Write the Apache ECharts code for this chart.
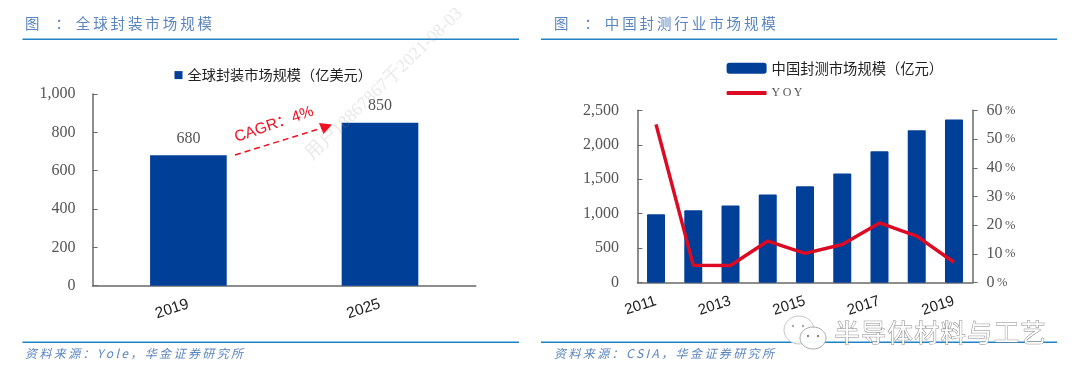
<!DOCTYPE html>
<html><head><meta charset="utf-8">
<style>html,body{margin:0;padding:0;background:#fff}#c{width:1080px;height:383px}</style>
<script src="https://cdn.jsdelivr.net/npm/echarts@6/dist/echarts.min.js"></script>
</head><body><div id="c"></div>
<script>
const globalYears = ['2019','2025'];
const globalSize = [680,850];
const globalTicks = [0,200,400,600,800,1000];
const chinaYears = ['2011','2012','2013','2014','2015','2016','2017','2018','2019'];
const chinaSize = [994,1052,1120,1280,1400,1583,1906,2211,2365];
const chinaYoy = [55.1,6.1,6.0,14.5,10.2,13.3,20.8,16.2,7.1];
const leftTitle='全球封装市场规模', rightTitle='中国封测行业市场规模';
const leftSource='资料来源：Yole，华金证券研究所', rightSource='资料来源：CSIA，华金证券研究所';
const leftName='全球封装市场规模（亿美元）', rightName='中国封测市场规模（亿元）', yoyName='YOY';

const BLUE='#003F98', RED='#DC0A22', HEAD='#5B85C0', RULE='#1E82C4', AXIS='#6a6a6a';
const CJK='"Noto Sans CJK SC","Noto Sans",sans-serif';
const SERIF='"Liberation Serif",serif';
const sp=(s,g)=>s.split('').join(g||'\u2009');
const valLabel={color:'#555',fontFamily:SERIF,fontSize:16,margin:17};
const catLabel={color:'#222',fontFamily:'"Liberation Sans",sans-serif',fontSize:15.5,rotate:18,margin:18};
const line={lineStyle:{color:AXIS,width:1.5}};
const ch=echarts.init(document.getElementById('c'));
const head=(x,x2,tx,t,s)=>[
 {type:'text',left:tx,top:16,style:{text:'图\u2002\u2009\u2009\u2009：\u2009\u2009'+sp(t),fill:HEAD,font:'14.5px '+CJK}},
 {type:'rect',shape:{x:x,y:38.5,width:x2-x,height:1.6},style:{fill:RULE}},
 {type:'rect',shape:{x:x,y:341.5,width:x2-x,height:1.6},style:{fill:RULE}},
 {type:'text',left:tx,top:347,style:{text:sp(s,'\u2009'),fill:HEAD,font:'italic 12px '+CJK}}
];
ch.setOption({
 animation:false,
 grid:[
  {left:92.6,top:94,width:383.2,height:191.7},
  {left:637.4,top:110.3,width:335.2,height:172.4}
 ],
 legend:[
  {data:[leftName],left:169.5,top:63,itemWidth:8,itemHeight:8,itemGap:2,icon:'rect',
   textStyle:{color:'#222',fontFamily:CJK,fontSize:14.2}},
  {data:[rightName],left:721.6,top:56,itemWidth:40,itemHeight:11,itemGap:2,icon:'roundRect',
   textStyle:{color:'#222',fontFamily:CJK,fontSize:14.3}},
  {data:[yoyName],left:721.6,top:82,itemWidth:40,itemHeight:4,itemGap:3,icon:'roundRect',
   formatter:()=>'Y\u2009O\u2009Y',
   textStyle:{color:'#555',fontFamily:SERIF,fontSize:12}}
 ],
 xAxis:[
  {gridIndex:0,type:'category',data:globalYears,axisLine:line,
   axisTick:{inside:true,length:5,lineStyle:{color:AXIS}},axisLabel:catLabel},
  {gridIndex:1,type:'category',data:chinaYears,axisLine:line,
   axisTick:{inside:true,length:5,interval:1,lineStyle:{color:AXIS}},axisLabel:{...catLabel,fontSize:15,interval:1}}
 ],
 yAxis:[
  {gridIndex:0,type:'value',min:globalTicks[0],max:globalTicks[5],interval:200,splitLine:{show:false},
   axisLine:{show:true,...line},axisTick:{show:true,inside:true,length:5,lineStyle:{color:AXIS}},
   axisLabel:{...valLabel,formatter:v=>v.toLocaleString('en-US')}},
  {gridIndex:1,type:'value',min:0,max:2500,interval:500,splitLine:{show:false},
   axisLine:{show:true,...line},axisTick:{show:true,inside:true,length:5,lineStyle:{color:AXIS}},
   axisLabel:{...valLabel,margin:18.5,formatter:v=>v.toLocaleString('en-US')}},
  {gridIndex:1,type:'value',position:'right',min:0,max:60,interval:10,splitLine:{show:false},
   axisLine:{show:true,...line},axisTick:{show:true,length:5,lineStyle:{color:AXIS}},
   axisLabel:{margin:14,formatter:v=>`{a|${v}}{b|\u2009%}`,
    rich:{a:{color:'#555',fontFamily:SERIF,fontSize:16},b:{color:'#555',fontFamily:SERIF,fontSize:12.5}}}}
 ],
 series:[
  {name:leftName,type:'bar',xAxisIndex:0,yAxisIndex:0,data:globalSize,barWidth:'40%',
   itemStyle:{color:BLUE},
   label:{show:true,position:'top',distance:8.5,color:'#555',fontFamily:SERIF,fontSize:16}},
  {name:rightName,type:'bar',xAxisIndex:1,yAxisIndex:1,data:chinaSize,barWidth:18,
   itemStyle:{color:BLUE,borderRadius:1}},
  {name:yoyName,type:'line',xAxisIndex:1,yAxisIndex:2,data:chinaYoy,symbol:'none',
   lineStyle:{color:RED,width:3.5},itemStyle:{color:RED}}
 ],
 graphic:[
  ...head(22.5,519,25,leftTitle,leftSource),
  ...head(541,1057,554,rightTitle,rightSource),
  {type:'line',shape:{x1:235,y1:155,x2:322,y2:128},style:{stroke:'#F01020',lineWidth:1.5,lineDash:[6,4]}},
  {type:'polygon',shape:{points:[[332,124.5],[319,123],[323.5,134]]},style:{fill:'#F01020'}},
  {type:'text',x:235,y:138,rotation:19*Math.PI/180,style:{text:'CAGR：4%',fill:'#F01020',font:'15.5px "Liberation Sans",'+CJK,textVerticalAlign:'middle'}},
  {type:'text',x:309,y:157,rotation:44*Math.PI/180,style:{text:'用户18867867于2021-08-03',fill:'rgba(150,150,150,0.22)',font:'18px '+SERIF,textVerticalAlign:'middle'},z:20},
  {type:'ellipse',shape:{cx:799,cy:330,rx:15,ry:14},style:{fill:'rgba(255,255,255,0.9)',stroke:'#c4c4c4',lineWidth:1},z:20},
  {type:'ellipse',shape:{cx:813,cy:338,rx:13,ry:11},style:{fill:'rgba(255,255,255,0.95)',stroke:'#aaa',lineWidth:1},z:20},
  {type:'circle',shape:{cx:808,cy:336,r:1.2},style:{fill:'#888'},z:21},
  {type:'circle',shape:{cx:818,cy:336,r:1.2},style:{fill:'#888'},z:21},
  {type:'circle',shape:{cx:793,cy:326,r:1.2},style:{fill:'#aaa'},z:21},
  {type:'circle',shape:{cx:803,cy:326,r:1.2},style:{fill:'#aaa'},z:21},
  {type:'text',left:834,top:319,style:{text:sp('半导体材料与工艺','\u200a'),fill:'#fff',stroke:'#888',lineWidth:1,font:'25px '+CJK},z:20}
 ]
});
</script></body></html>
